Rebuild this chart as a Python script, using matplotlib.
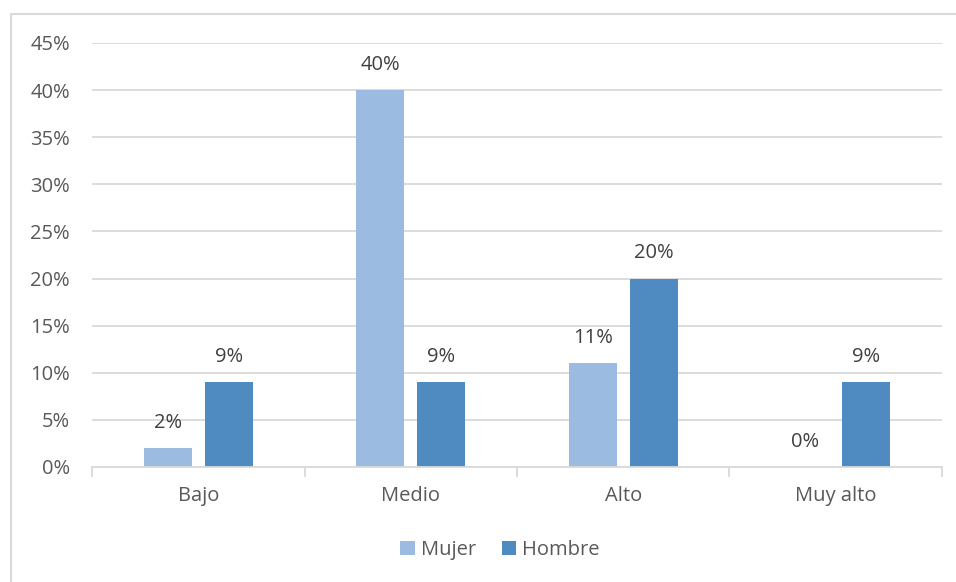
import numpy as np
import matplotlib.pyplot as plt
from matplotlib.lines import Line2D

# niveles y porcentajes por sexo
categorias = ["Bajo", "Medio", "Alto", "Muy alto"]
mujer = [2, 40, 11, 0]
hombre = [9, 9, 20, 9]
y_ticks = [0, 5, 10, 15, 20, 25, 30, 35, 40, 45]

COLOR_MUJER = "#9BBBE0"
COLOR_HOMBRE = "#4F8BC0"
TEXTO = "#595959"
ETIQUETA = "#404040"
GRIS = "#D9D9D9"
FS = 14.5

plt.rcParams["font.family"] = ["Open Sans", "DejaVu Sans"]

fig = plt.figure(figsize=(9.56, 5.82), dpi=100)
ax = fig.add_axes([92 / 956, 1 - 467 / 582, 850 / 956, 424 / 582])

x = np.arange(len(categorias))
ancho = 0.226
desp = 0.143

b1 = ax.bar(x - desp, mujer, ancho, color=COLOR_MUJER, label="Mujer", zorder=3)
b2 = ax.bar(x + desp, hombre, ancho, color=COLOR_HOMBRE, label="Hombre", zorder=3)

for barras, vals in ((b1, mujer), (b2, hombre)):
    for b, v in zip(barras, vals):
        ax.text(b.get_x() + b.get_width() / 2, v + 1.6, f"{v}%",
                ha="center", va="bottom", fontsize=FS, color=ETIQUETA)

ax.set_xlim(-0.5, len(categorias) - 0.5)
ax.set_ylim(0, 45)
ax.set_yticks(y_ticks)
ax.set_yticklabels([f"{t}%" for t in y_ticks])
ax.yaxis.grid(True, color=GRIS, linewidth=1.3, zorder=0)

ax.set_xticks(x)
ax.set_xticklabels(categorias)
ax.set_xticks(np.arange(len(categorias) + 1) - 0.5, minor=True)
ax.tick_params(axis="x", which="major", length=0, pad=14, labelsize=FS, labelcolor=TEXTO)
ax.tick_params(axis="x", which="minor", length=7, width=1.3, color=GRIS)
ax.tick_params(axis="y", length=0, pad=16, labelsize=FS, labelcolor=TEXTO)

for lado in ("top", "right", "left"):
    ax.spines[lado].set_visible(False)
ax.spines["bottom"].set_color(GRIS)
ax.spines["bottom"].set_linewidth(1.3)
ax.spines["bottom"].set_zorder(4)

# marco del gráfico (solo borde izquierdo y superior)
xb, yb = 11 / 956, 1 - 14 / 582
fig.add_artist(Line2D([xb, xb, 1.05], [-0.05, yb, yb], transform=fig.transFigure,
                      color=GRIS, linewidth=1.5))

fig.legend(handles=[b1, b2], loc="center", bbox_to_anchor=(500 / 956, 1 - 550 / 582),
           ncol=2, frameon=False, fontsize=FS, labelcolor=TEXTO,
           handlelength=0.7, handleheight=0.7, handletextpad=0.3, columnspacing=1.3)

fig.savefig("out.png", dpi=100)
